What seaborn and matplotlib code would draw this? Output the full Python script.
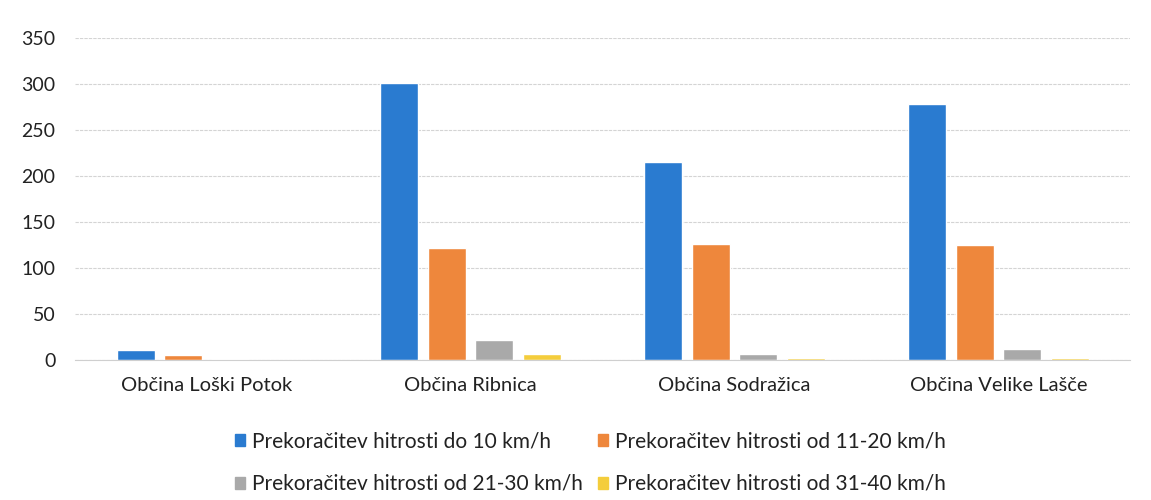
import pandas as pd
import matplotlib.pyplot as plt
import seaborn as sns
from matplotlib.patches import Patch

# podatki odčitani s slike
obcine = ['Občina Loški Potok', 'Občina Ribnica', 'Občina Sodražica', 'Občina Velike Lašče']
serije = ['Prekoračitev hitrosti do 10 km/h',
          'Prekoračitev hitrosti od 11-20 km/h',
          'Prekoračitev hitrosti od 21-30 km/h',
          'Prekoračitev hitrosti od 31-40 km/h']
do_10 = [11, 301, 215, 278]
od_11_20 = [5, 122, 126, 125]
od_21_30 = [1, 22, 7, 12]
od_31_40 = [0, 6, 2, 2]

barve = ['#2a7bd0', '#ee873c', '#a9a9a9', '#f4cd3c']

df = pd.DataFrame({'Obcina': obcine * 4,
                   'Serija': [s for s in serije for _ in obcine],
                   'Vrednost': do_10 + od_11_20 + od_21_30 + od_31_40})

sns.set_style('white')
plt.rcParams['font.family'] = ['Lato', 'DejaVu Sans']

fig = plt.figure(figsize=(11.51, 5.0), dpi=100)
ax = fig.add_axes([0.065, 0.28, 0.917, 0.644])

sns.barplot(data=df, x='Obcina', y='Vrednost', hue='Serija', hue_order=serije,
            palette=barve, saturation=1, width=0.72, gap=0.2, ax=ax, legend=False)

ax.set_ylim(0, 350)
ax.set_yticks(range(0, 351, 50))
ax.yaxis.grid(True, color='#d4d4d4', linewidth=0.8, linestyle=(0, (3, 1)))
ax.set_axisbelow(True)
for s in ['top', 'right', 'left']:
    ax.spines[s].set_visible(False)
ax.spines['bottom'].set_color('#cfcfcf')
ax.tick_params(axis='y', length=0, labelsize=14, colors='#222222', pad=14)
ax.tick_params(axis='x', length=0, labelsize=14.5, colors='#222222', pad=12)
ax.set_xlabel('')
ax.set_ylabel('')

# legenda v dveh vrsticah (vrstni red po vrsticah)
handles = [Patch(color=c) for c in barve]
red = [0, 2, 1, 3]
fig.legend([handles[i] for i in red], [serije[i] for i in red], ncol=2,
           loc='center', bbox_to_anchor=(0.513, 0.075), frameon=False,
           fontsize=15, handlelength=0.5, handleheight=0.5, handletextpad=0.35,
           columnspacing=0.7, labelspacing=1.1, labelcolor='#222222')

plt.savefig('out.png', dpi=100)
